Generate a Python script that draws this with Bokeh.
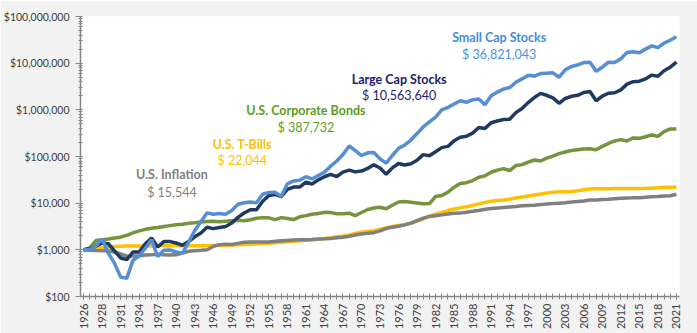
import math
from bokeh.plotting import figure
from bokeh.models import Range1d, FixedTicker, LogTicker, NumeralTickFormatter, Label, ColumnDataSource
from bokeh.embed import file_html
from bokeh.resources import INLINE

# first category is the starting point ($1,000 invested), then year-end values 1926..2021
categories = ["start"] + [str(y) for y in range(1926, 2022)]

tick_labels = ["1926", "1928", "1931", "1934", "1937", "1940", "1943", "1946", "1949", "1952",
               "1955", "1958", "1961", "1964", "1967", "1970", "1973", "1976", "1979", "1982",
               "1985", "1988", "1991", "1994", "1997", "2000", "2003", "2006", "2009", "2012",
               "2015", "2018", "2021"]

small_cap = [1000, 1000, 1220, 1720, 850, 520, 260, 245, 600, 740,
             1080, 1650, 720, 980, 990, 900, 850, 1450, 2600, 4000,
             6200, 5800, 6000, 5800, 7000, 9500, 10200, 10600, 10200, 15500,
             17000, 17200, 14000, 26000, 30000, 31000, 37000, 33000, 39000, 46000,
             62000, 80000, 110000, 168000, 134000, 105000, 120000, 122000, 89000, 72000,
             105000, 150000, 175000, 225000, 310000, 430000, 550000, 700000, 1000000, 1130000,
             1330000, 1560000, 1450000, 1650000, 1700000, 1280000, 2000000, 2400000, 2800000, 3000000,
             3900000, 4600000, 5500000, 5300000, 6000000, 6100000, 6200000, 5000000, 7200000, 8500000,
             9200000, 10300000, 10500000, 6700000, 8200000, 10500000, 10300000, 12400000, 17000000, 17600000,
             16800000, 20000000, 23500000, 21500000, 27000000, 31000000, 36821043]

large_cap = [1000, 1050, 1200, 1400, 1350, 950, 670, 615, 900, 900,
             1350, 1800, 1150, 1500, 1500, 1400, 1250, 1500, 1900, 2300,
             3050, 2850, 3000, 3150, 3750, 4950, 6150, 7250, 7200, 11000,
             14500, 15400, 13800, 19700, 22100, 22200, 28200, 25700, 31600, 36800,
             41300, 37200, 46100, 51200, 46800, 48700, 55700, 66300, 56500, 41600,
             57100, 70700, 65600, 69900, 82800, 109600, 104200, 126500, 155000, 164700,
             217700, 258000, 271000, 317000, 420000, 400000, 530000, 575000, 620000, 630000,
             870000, 1070000, 1430000, 1840000, 2250000, 2050000, 1800000, 1380000, 1750000, 1950000,
             2050000, 2350000, 2480000, 1560000, 1970000, 2270000, 2320000, 2680000, 3550000, 4020000,
             4100000, 4600000, 5550000, 5250000, 6900000, 8200000, 10563640]

corp_bonds = [1000, 1100, 1580, 1640, 1700, 1800, 1870, 2050, 2300, 2550,
              2750, 2900, 3000, 3150, 3300, 3450, 3550, 3700, 3800, 3950,
              4050, 4100, 4000, 4100, 4200, 4300, 4200, 4400, 4750, 4900,
              4850, 4450, 4900, 4700, 4450, 5100, 5400, 5800, 6000, 6350,
              6300, 5900, 5900, 6100, 5400, 6300, 7300, 7900, 8200, 7600,
              9000, 10600, 10800, 10500, 10100, 9700, 9800, 13900, 14600, 17200,
              22000, 26500, 27500, 30500, 36000, 38500, 46000, 51000, 55000, 50000,
              64000, 67000, 76000, 84000, 80000, 92000, 102000, 115000, 125000, 134000,
              139000, 144000, 147000, 139000, 165000, 190000, 215000, 230000, 215000, 250000,
              245000, 265000, 290000, 270000, 340000, 390000, 387732]

t_bills = [1000, 1033, 1065, 1103, 1155, 1183, 1196, 1207, 1210, 1211,
           1213, 1215, 1217, 1217, 1217, 1217, 1218, 1221, 1225, 1229,
           1233, 1237, 1244, 1254, 1268, 1283, 1302, 1324, 1348, 1359,
           1381, 1415, 1459, 1482, 1526, 1566, 1600, 1644, 1695, 1754,
           1823, 1910, 1991, 2094, 2232, 2384, 2485, 2580, 2757, 2976,
           3149, 3309, 3479, 3728, 4115, 4578, 5251, 5801, 6317, 6946,
           7477, 7936, 8369, 8904, 9651, 10395, 10988, 11372, 11716, 12189,
           12877, 13552, 14263, 14957, 15662, 16561, 17189, 17464, 17643, 17871,
           18413, 19292, 20149, 20438, 20464, 20492, 20505, 20523, 20535, 20541,
           20700, 20800, 21000, 21400, 21900, 22030, 22044]

inflation = [1000, 985, 964, 955, 957, 899, 814, 730, 734, 749,
             771, 780, 804, 781, 777, 780, 852, 930, 959, 979,
             1000, 1183, 1290, 1325, 1299, 1376, 1457, 1470, 1479, 1472,
             1478, 1520, 1564, 1591, 1615, 1639, 1650, 1670, 1698, 1720,
             1753, 1813, 1866, 1946, 2069, 2182, 2255, 2334, 2544, 2861,
             3061, 3208, 3427, 3732, 4234, 4770, 5200, 5402, 5612, 5834,
             6052, 6120, 6392, 6682, 6988, 7419, 7649, 7873, 8085, 8300,
             8507, 8788, 8935, 9070, 9310, 9629, 9780, 10015, 10203, 10538,
             10898, 11179, 11643, 11652, 11965, 12144, 12506, 12721, 12912, 13002,
             13097, 13378, 13659, 13912, 14234, 14425, 15544]

FONT = "Lato"

idx = list(range(len(categories)))
src = ColumnDataSource(dict(i=idx, small=small_cap, large=large_cap, corp=corp_bonds,
                            bills=t_bills, infl=inflation))

p = figure(width=697, height=333, y_axis_type="log", output_backend="svg", toolbar_location=None,
           x_range=Range1d(-0.5, len(categories) - 0.5), y_range=Range1d(100, 1e8),
           min_border_left=77, min_border_right=18, min_border_top=16, min_border_bottom=37)
p.border_fill_color = "#F2F2F2"
p.background_fill_color = "#FFFFFF"
p.outline_line_color = None
p.xgrid.visible = False
p.ygrid.visible = False

W = 3.5
p.line("i", "bills", source=src, line_color="#FFC000", line_width=W)
p.line("i", "infl", source=src, line_color="#808080", line_width=W)
p.line("i", "corp", source=src, line_color="#77933C", line_width=W)
p.line("i", "large", source=src, line_color="#1F3A60", line_width=W)
p.line("i", "small", source=src, line_color="#558ED5", line_width=W)

# axes
p.yaxis.ticker = LogTicker(num_minor_ticks=10)
p.yaxis.formatter = NumeralTickFormatter(format="$0,0")
tick_pos = list(range(0, len(categories), 3))
p.xaxis.ticker = FixedTicker(ticks=tick_pos, minor_ticks=idx)
p.xaxis.major_label_overrides = {t: lab for t, lab in zip(tick_pos, tick_labels)}
p.xaxis.major_label_orientation = math.pi / 2

for ax in (p.xaxis, p.yaxis):
    ax.axis_line_color = "#868686"
    ax.axis_line_width = 1.5
    ax.major_tick_line_color = "#868686"
    ax.minor_tick_line_color = "#868686"
    ax.major_label_text_font = FONT
    ax.major_label_text_color = "#404040"

p.yaxis.major_label_text_font_size = "10.5px"
p.xaxis.major_label_text_font_size = "11px"
p.yaxis.major_tick_out = 5
p.yaxis.major_tick_in = 0
p.yaxis.minor_tick_out = 2
p.yaxis.minor_tick_in = 2
p.yaxis.major_label_standoff = 6
p.xaxis.major_tick_out = 3
p.xaxis.major_tick_in = 3
p.xaxis.minor_tick_out = 3
p.xaxis.minor_tick_in = 3
p.xaxis.major_label_standoff = 4

def add_label(x, y, text, color, bold):
    p.add_layout(Label(x=x, y=y, text=text, text_font=FONT, text_font_size="12.5px",
                       text_font_style="bold" if bold else "normal", text_color=color,
                       text_align="center", text_baseline="middle"))

add_label(67.3, 3.49e7, "Small Cap Stocks", "#3F8EE0", True)
add_label(67.3, 1.53e7, "$ 36,821,043", "#4A93E3", False)
add_label(51.1, 4.4e6, "Large Cap Stocks", "#1C1C6B", True)
add_label(51.1, 2.0e6, "$ 10,563,640", "#1C1C6B", False)
add_label(36.0, 9.66e5, "U.S. Corporate Bonds", "#5A9E1C", True)
add_label(36.0, 4.25e5, "$ 387,732", "#5A9E1C", False)
add_label(25.7, 1.85e5, "U.S. T-Bills", "#FFC000", True)
add_label(25.7, 8.2e4, "$ 22,044", "#FFC000", False)
add_label(14.3, 4.1e4, "U.S. Inflation", "#7F7F7F", True)
add_label(14.3, 1.72e4, "$ 15,544", "#7F7F7F", False)

open("out.html", "w").write(file_html(p, INLINE))
